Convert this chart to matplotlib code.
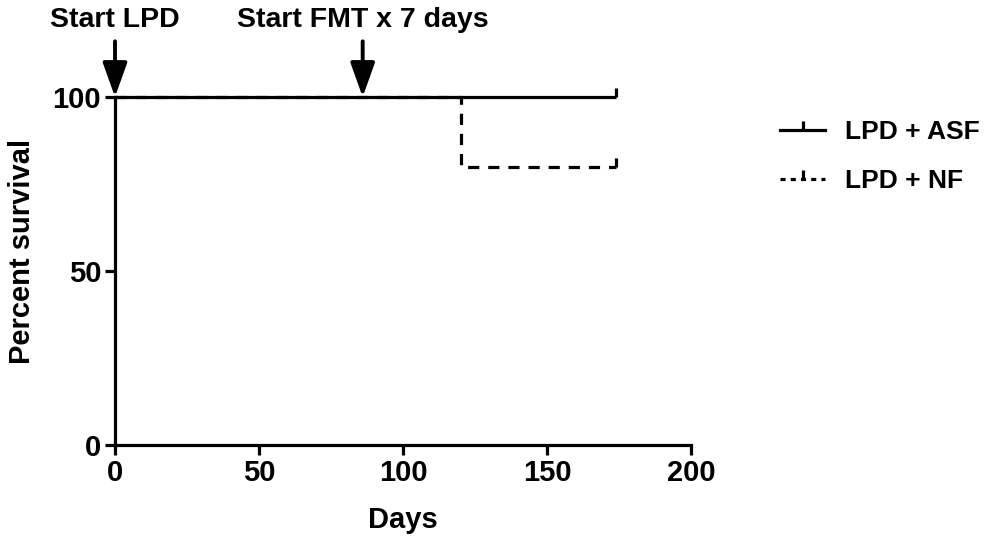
import matplotlib
matplotlib.use("Agg")
import matplotlib.pyplot as plt
from matplotlib.path import Path
from matplotlib.lines import Line2D

plt.rcParams['font.family'] = ['Liberation Sans', 'DejaVu Sans']
plt.rcParams['font.weight'] = 'bold'

# Data (Kaplan-Meier steps)
asf_days = [0, 174]
asf_surv = [100, 100]
nf_days = [0, 120, 120, 174]
nf_surv = [100, 100, 80, 80]
censor_day = 174
events = [(0, "Start LPD"), (86, "Start FMT x 7 days")]
xticks = [0, 50, 100, 150, 200]
yticks = [0, 50, 100]

fig = plt.figure(figsize=(9.92, 5.38), dpi=100)
ax = fig.add_axes([115/992, 1-445/538, (691-115)/992, (445-97)/538])

lw = 2.3
up_tick = Path([(0, 0), (0, 1)])

ax.plot(asf_days, asf_surv, color='black', lw=lw, clip_on=False, solid_capstyle='butt')
ax.plot(nf_days, nf_surv, color='black', lw=lw, ls=(0, (3.5, 2.8)), clip_on=False)
ax.plot([censor_day], [100], ls='none', marker=up_tick, ms=13, mew=lw, color='black', clip_on=False)
ax.plot([censor_day], [80], ls='none', marker=up_tick, ms=13, mew=lw, color='black', clip_on=False)

ax.set_xlim(0, 200)
ax.set_ylim(0, 100)
ax.set_xticks(xticks)
ax.set_yticks(yticks)
for s in ['top', 'right']:
    ax.spines[s].set_visible(False)
for s in ['left', 'bottom']:
    ax.spines[s].set_linewidth(lw)
ax.tick_params(axis='both', direction='out', length=7, width=lw, labelsize=21, pad=3)
ax.set_xlabel("Days", fontsize=21, fontweight='bold', labelpad=14)
ax.set_ylabel("Percent survival", fontsize=21, fontweight='bold')
ax.yaxis.set_label_coords(-0.138, 0.557)

for d, label in events:
    ax.annotate("", xy=(d, 100), xytext=(d, 116), xycoords='data', textcoords='data',
                arrowprops=dict(arrowstyle='-|>,head_length=2.1,head_width=0.75', color='black',
                                lw=2.8, shrinkA=0, shrinkB=0), annotation_clip=False)
    ax.text(d, 118.5, label, ha='center', va='bottom', fontsize=20.5, fontweight='bold', clip_on=False)

h1 = Line2D([], [], color='black', lw=lw, marker=up_tick, ms=13, mew=lw)
h2 = Line2D([], [], color='black', lw=lw, ls=(0, (1.6, 1.6)), marker=up_tick, ms=13, mew=lw)
fig.legend([h1, h2], ["LPD + ASF", "LPD + NF"], loc='upper left',
           bbox_to_anchor=(775/992, 1-115/538), frameon=False, fontsize=19,
           handlelength=1.7, handletextpad=0.75, labelspacing=0.95, numpoints=1,
           borderaxespad=0, borderpad=0.2)

fig.savefig("out.png", dpi=100)
